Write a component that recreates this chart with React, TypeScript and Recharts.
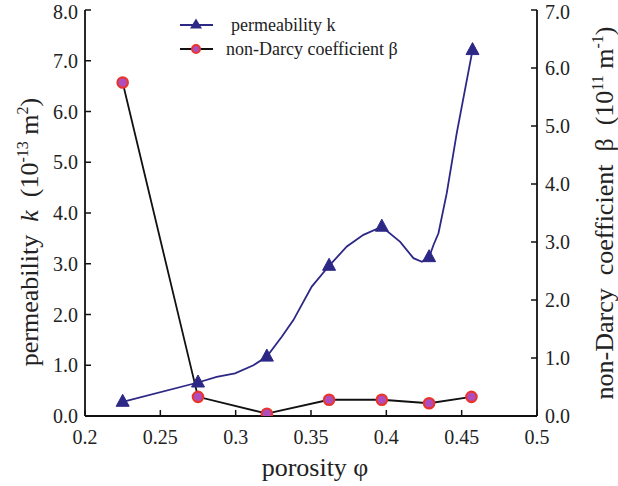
import { LineChart, Line, XAxis, YAxis } from "recharts";

// porosity axis ticks and the two value axes
const porosityTicks = [0.2, 0.25, 0.3, 0.35, 0.4, 0.45, 0.5];
const kTicks = [0, 1, 2, 3, 4, 5, 6, 7, 8];
const betaTicks = [0, 1, 2, 3, 4, 5, 6, 7];

// permeability k (1e-13 m2)
const kPorosity = [0.225, 0.275, 0.2874, 0.2996, 0.3118, 0.3207, 0.3306, 0.3383, 0.3505, 0.362, 0.3738, 0.3848, 0.397, 0.4092, 0.418, 0.4236, 0.4284, 0.4313, 0.4346, 0.4401, 0.4467, 0.4572];
const kValues = [0.28, 0.66, 0.77, 0.84, 1.0, 1.17, 1.56, 1.89, 2.55, 2.96, 3.34, 3.57, 3.73, 3.43, 3.11, 3.04, 3.13, 3.37, 3.6, 4.39, 5.57, 7.21];
// measured samples (drawn with triangles)
const kMeasured = [0.225, 0.275, 0.3207, 0.362, 0.397, 0.4284, 0.4572];

// non-Darcy coefficient beta (1e11 1/m)
const betaPorosity = [0.225, 0.275, 0.3207, 0.362, 0.397, 0.4284, 0.4565];
const betaValues = [5.75, 0.33, 0.04, 0.28, 0.28, 0.22, 0.33];

const kData = kPorosity.map((x, i) => ({ x, y: kValues[i], mark: kMeasured.includes(x) }));
const betaData = betaPorosity.map((x, i) => ({ x, y: betaValues[i] }));

const FONT = '"Liberation Serif", "Times New Roman", serif';
const INK = "#222";
const PURPLE = "#2d2886";
const RED = "#e8362c";
const MAGENTA = "#b04dbd";

const tickStyle = { fontSize: 20, fill: INK, fontFamily: FONT };

function Triangle(props: any) {
  const { cx, cy, payload, index } = props;
  if (!payload || !payload.mark) return <g key={"t" + index} />;
  return (
    <polygon
      key={"t" + index}
      points={`${cx},${cy - 7.5} ${cx - 6.5},${cy + 4.5} ${cx + 6.5},${cy + 4.5}`}
      fill={PURPLE}
      stroke={PURPLE}
      strokeWidth={1}
    />
  );
}

function Dot(props: any) {
  const { cx, cy, index } = props;
  return <circle key={"c" + index} cx={cx} cy={cy} r={5.2} fill={MAGENTA} stroke={RED} strokeWidth={2.2} />;
}

const leftTitle = () => (
  <text x={38} y={232} transform="rotate(-90 38 232)" textAnchor="middle" fontFamily={FONT} fontSize={26} fill={INK} xmlSpace="preserve">
    permeability  <tspan fontStyle="italic">k</tspan>  (10<tspan dy={-10} fontSize={16}>-13</tspan>
    <tspan dy={10}> m</tspan><tspan dy={-10} fontSize={16}>2</tspan><tspan dy={10}>)</tspan>
  </text>
);

const rightTitle = () => (
  <text x={613} y={213} transform="rotate(-90 613 213)" textAnchor="middle" fontFamily={FONT} fontSize={26} fill={INK} xmlSpace="preserve">
    non-Darcy  coefficient  β  (10<tspan dy={-10} fontSize={16}>11</tspan>
    <tspan dy={10}> m</tspan><tspan dy={-10} fontSize={16}>-1</tspan><tspan dy={10}>)</tspan>
  </text>
);

const bottomTitle = () => (
  <text x={315} y={476} textAnchor="middle" fontFamily={FONT} fontSize={26} fill={INK}>
    porosity φ
  </text>
);

export default function App() {
  return (
    <div style={{ position: "absolute", left: 0, top: 0, width: 618, height: 486, background: "#fff" }}>
      <LineChart width={618} height={486} margin={{ top: 10, right: 0, bottom: 0, left: 0 }}>
        <XAxis
          dataKey="x"
          type="number"
          domain={[0.2, 0.5]}
          ticks={porosityTicks}
          tickFormatter={(v: number) => String(Number(v.toFixed(2)))}
          height={70}
          tick={tickStyle}
          tickSize={-6}
          tickMargin={20}
          axisLine={{ stroke: "#111", strokeWidth: 1.8 }}
          tickLine={{ stroke: "#111", strokeWidth: 1.5 }}
          label={bottomTitle}
          allowDataOverflow
        />
        <YAxis
          yAxisId="k"
          orientation="left"
          domain={[0, 8]}
          ticks={kTicks}
          tickFormatter={(v: number) => v.toFixed(1)}
          width={85}
          tick={tickStyle}
          tickSize={-6}
          tickMargin={13}
          axisLine={{ stroke: "#111", strokeWidth: 1.8 }}
          tickLine={{ stroke: "#111", strokeWidth: 1.5 }}
          label={leftTitle}
          allowDataOverflow
        />
        <YAxis
          yAxisId="beta"
          orientation="right"
          domain={[0, 7]}
          ticks={betaTicks}
          tickFormatter={(v: number) => v.toFixed(1)}
          width={81}
          tick={tickStyle}
          tickSize={-6}
          tickMargin={14}
          axisLine={{ stroke: "#111", strokeWidth: 1.8 }}
          tickLine={{ stroke: "#111", strokeWidth: 1.5 }}
          label={rightTitle}
          allowDataOverflow
        />
        <Line
          yAxisId="beta"
          data={betaData}
          dataKey="y"
          type="linear"
          stroke="#111"
          strokeWidth={1.8}
          dot={Dot}
          activeDot={false}
          isAnimationActive={false}
        />
        <Line
          yAxisId="k"
          data={kData}
          dataKey="y"
          type="linear"
          stroke={PURPLE}
          strokeWidth={1.8}
          dot={Triangle}
          activeDot={false}
          isAnimationActive={false}
        />
      </LineChart>
      <svg width={618} height={486} style={{ position: "absolute", left: 0, top: 0, pointerEvents: "none" }}>
        <line x1={180} x2={213} y1={25} y2={25} stroke={PURPLE} strokeWidth={2} />
        <polygon points="196,18.5 190,28.5 202,28.5" fill={PURPLE} />
        <text x={231} y={31} fontFamily={FONT} fontSize={18} fill={INK}>permeability k</text>
        <line x1={180} x2={213} y1={49} y2={49} stroke="#111" strokeWidth={2} />
        <circle cx={196} cy={49} r={4} fill={MAGENTA} stroke={RED} strokeWidth={2} />
        <text x={226} y={55} fontFamily={FONT} fontSize={18} fill={INK}>non-Darcy coefficient β</text>
      </svg>
    </div>
  );
}
